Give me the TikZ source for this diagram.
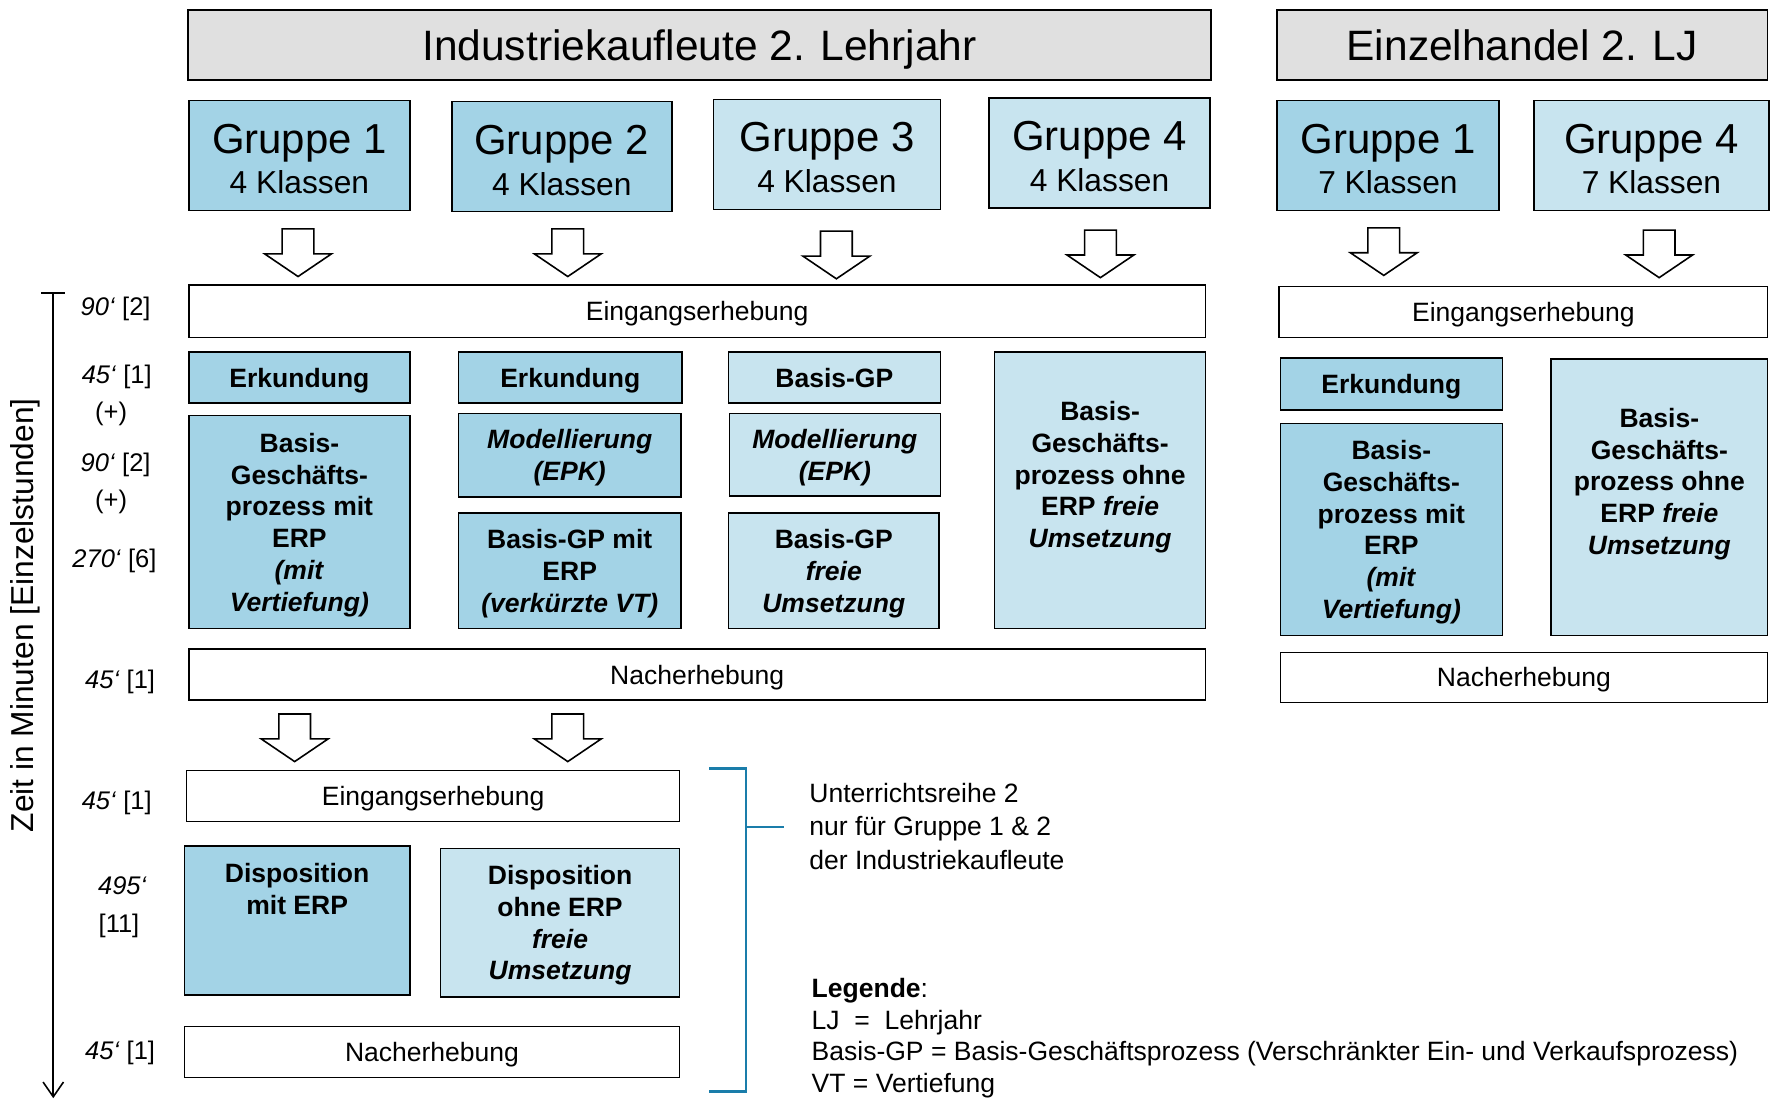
\documentclass[tikz,border=0pt]{standalone}
\usepackage{fontspec}
\setmainfont{Liberation Sans}
\usetikzlibrary{arrows.meta}

\definecolor{dkblue}{RGB}{163,211,230}
\definecolor{ltblue}{RGB}{200,228,239}
\definecolor{headgray}{RGB}{224,224,224}
\definecolor{brblue}{RGB}{26,125,170}

\newcommand\headfont{\fontsize{37.5}{40}\selectfont}
\newcommand\grpfont{\fontsize{37}{36}\selectfont}
\newcommand\klfont{\fontsize{28}{30}\selectfont}
\newcommand\taskfont{\fontsize{23.4}{28}\selectfont\bfseries}
\newcommand\barfont{\fontsize{23.4}{28}\selectfont}
\newcommand\timefont{\fontsize{22.5}{28}\selectfont}

\tikzset{
  box/.style={draw, line width=1.4pt, anchor=north west, inner sep=0pt, align=center},
  oneline/.style={text height=#1, text depth=0pt},
  head/.style={box, oneline=27pt, fill=headgray, font=\headfont},
  grp/.style={box, font=\grpfont},
  task/.style={box, font=\taskfont, text depth=0pt},
  bar/.style={box, oneline=16.8pt, fill=white, font=\barfont},
  dark/.style={fill=dkblue},
  light/.style={fill=ltblue},
  time/.style={font=\timefont, inner sep=0pt, oneline=16.2pt},
  downarrow/.pic={
    \draw[line width=1.4pt, fill=white] (-14,0) -- (14,0) -- (14,22) -- (29.5,22)
      -- (0,42) -- (-29.5,22) -- (-14,22) -- cycle;
  }
}
\newcommand\grp[2]{\rule{0pt}{32pt}Gruppe #1\\{\klfont #2 Klassen}}

\begin{document}
\begin{tikzpicture}[x=1pt,y=-1pt]
\useasboundingbox (0,0) rectangle (1568,970);

% headers
\node[head, minimum width=903, minimum height=62] (ik) at (165,8) {Industriekaufleute 2. Lehrjahr};
\node[head, minimum width=433, minimum height=62] (eh) at (1126,8) {Einzelhandel 2. LJ};

% groups
\node[grp, dark, minimum width=195, minimum height=97] (ik1) at (166,88) {\grp{1}{4}};
\node[grp, dark, minimum width=194, minimum height=97] (ik2) at (398,89) {\grp{2}{4}};
\node[grp, light, minimum width=200, minimum height=97] (ik3) at (629,87) {\grp{3}{4}};
\node[grp, light, minimum width=195, minimum height=97] (ik4) at (872,86) {\grp{4}{4}};
\node[grp, dark, minimum width=196, minimum height=97] (eh1) at (1126,88) {\grp{1}{7}};
\node[grp, light, minimum width=207, minimum height=97] (eh4) at (1353,88) {\grp{4}{7}};

\foreach \x/\y in {263/202, 501/202, 738/204, 971/203, 1221/201, 1464/203}
  \pic at (\x,\y) {downarrow};

% Unterrichtsreihe 1
\node[bar, minimum width=897, minimum height=46] (in1) at (166,251) {Eingangserhebung};
\node[bar, minimum width=431, minimum height=45] (inE) at (1128,252) {Eingangserhebung};

\node[task, dark, minimum width=195, minimum height=45] (ik1e) at (166,310) {Erkundung};
\node[task, dark, minimum width=195, minimum height=188] (ik1b) at (166,366)
  {Basis-\\Geschäfts-\\prozess mit\\ERP\\\textit{(mit}\\\textit{Vertiefung)}};
\node[task, dark, minimum width=197, minimum height=45] (ik2e) at (404,310) {Erkundung};
\node[task, dark, minimum width=196, minimum height=74] (ik2m) at (404,364)
  {\textit{Modellierung}\\\textit{(EPK)}};
\node[task, dark, minimum width=196, minimum height=102] (ik2b) at (404,452)
  {Basis-GP mit\\ERP\\\textit{(verkürzte VT)}};
\node[task, light, minimum width=187, minimum height=45] (ik3e) at (642,310) {Basis-GP};
\node[task, light, minimum width=186, minimum height=73] (ik3m) at (643,364)
  {\textit{Modellierung}\\\textit{(EPK)}};
\node[task, light, minimum width=186, minimum height=102] (ik3b) at (642,452)
  {Basis-GP\\\textit{freie}\\\textit{Umsetzung}};
\node[task, light, minimum width=186, minimum height=244] (ik4b) at (877,310)
  {Basis-\\Geschäfts-\\prozess ohne\\ERP \textit{freie}\\\textit{Umsetzung}\\\mbox{}};

\node[task, dark, minimum width=196, minimum height=46] (eh1e) at (1129,315) {Erkundung};
\node[task, dark, minimum width=196, minimum height=187] (eh1b) at (1129,373)
  {Basis-\\Geschäfts-\\prozess mit\\ERP\\\textit{(mit}\\\textit{Vertiefung)}};
\node[task, light, minimum width=191, minimum height=244] (eh4b) at (1368,316)
  {Basis-\\Geschäfts-\\prozess ohne\\ERP \textit{freie}\\\textit{Umsetzung}\\\mbox{}};

\node[bar, minimum width=897, minimum height=45] (out1) at (166,572) {Nacherhebung};
\node[bar, minimum width=430, minimum height=44] (outE) at (1129,575) {Nacherhebung};

\foreach \x in {260, 501}
  \pic at (\x,630) {downarrow};

% Unterrichtsreihe 2
\node[bar, minimum width=435, minimum height=45] (in2) at (164,679) {Eingangserhebung};
\node[task, dark, minimum width=199, minimum height=131] (d1) at (162,746)
  {Disposition\\mit ERP\\\mbox{}\\\mbox{}};
\node[task, light, minimum width=211, minimum height=131] (d2) at (388,748)
  {Disposition\\ohne ERP\\\textit{freie}\\\textit{Umsetzung}};
\node[bar, minimum width=437, minimum height=45] (out2) at (162,905) {Nacherhebung};

% bracket
\coordinate (brt) at (626,678);
\coordinate (brb) at (626,963);
\coordinate (brm) at (658,730);
\draw[brblue, line width=2pt] (brt) -- (brt -| brm) -- (brb -| brm) -- (brb);
\draw[brblue, line width=2pt] (brm) -- ++(34,0);
\node[anchor=north west, inner sep=0pt, align=left, font=\fontsize{23.4}{29.5}\selectfont] (ur2) at (714,691)
  {Unterrichtsreihe 2\\nur für Gruppe 1 \& 2\\der Industriekaufleute};

% legend
\node[anchor=north west, inner sep=0pt, align=left, font=\barfont] (leg) at (716,863)
  {\textbf{Legende}:\\LJ\ \ =\ \ Lehrjahr\\Basis-GP = Basis-Geschäftsprozess (Verschränkter Ein- und Verkaufsprozess)\\VT = Vertiefung};

% time axis
\coordinate (ax0) at (47,258);
\coordinate (ax1) at (47,969);
\draw[line width=1.4pt, {Bar[width=21pt]}-{Straight Barb[length=13pt, width=18pt]}] (ax0) -- (ax1);
\node[rotate=90, font=\fontsize{28}{30}\selectfont] (axl) at (22,543) {Zeit in Minuten [Einzelstunden]};

\node[time] (t1) at (102,270) {\textit{90‘} [2]};
\node[time] (t2) at (103,330) {\textit{45‘} [1]};
\node[time] (p1) at (98,363) {(+)};
\node[time] (t3) at (102,408) {\textit{90‘} [2]};
\node[time] (p2) at (98,441) {(+)};
\node[time] (t4) at (101,493) {\textit{270‘} [6]};
\node[time] (t5) at (106,599) {\textit{45‘} [1]};
\node[time] (t6) at (103,706) {\textit{45‘} [1]};
\node[time] (t7) at (108,781) {\textit{495‘}};
\node[time] (t8) at (105,815) {[11]};
\node[time] (t9) at (106,927) {\textit{45‘} [1]};
\end{tikzpicture}
\end{document}
